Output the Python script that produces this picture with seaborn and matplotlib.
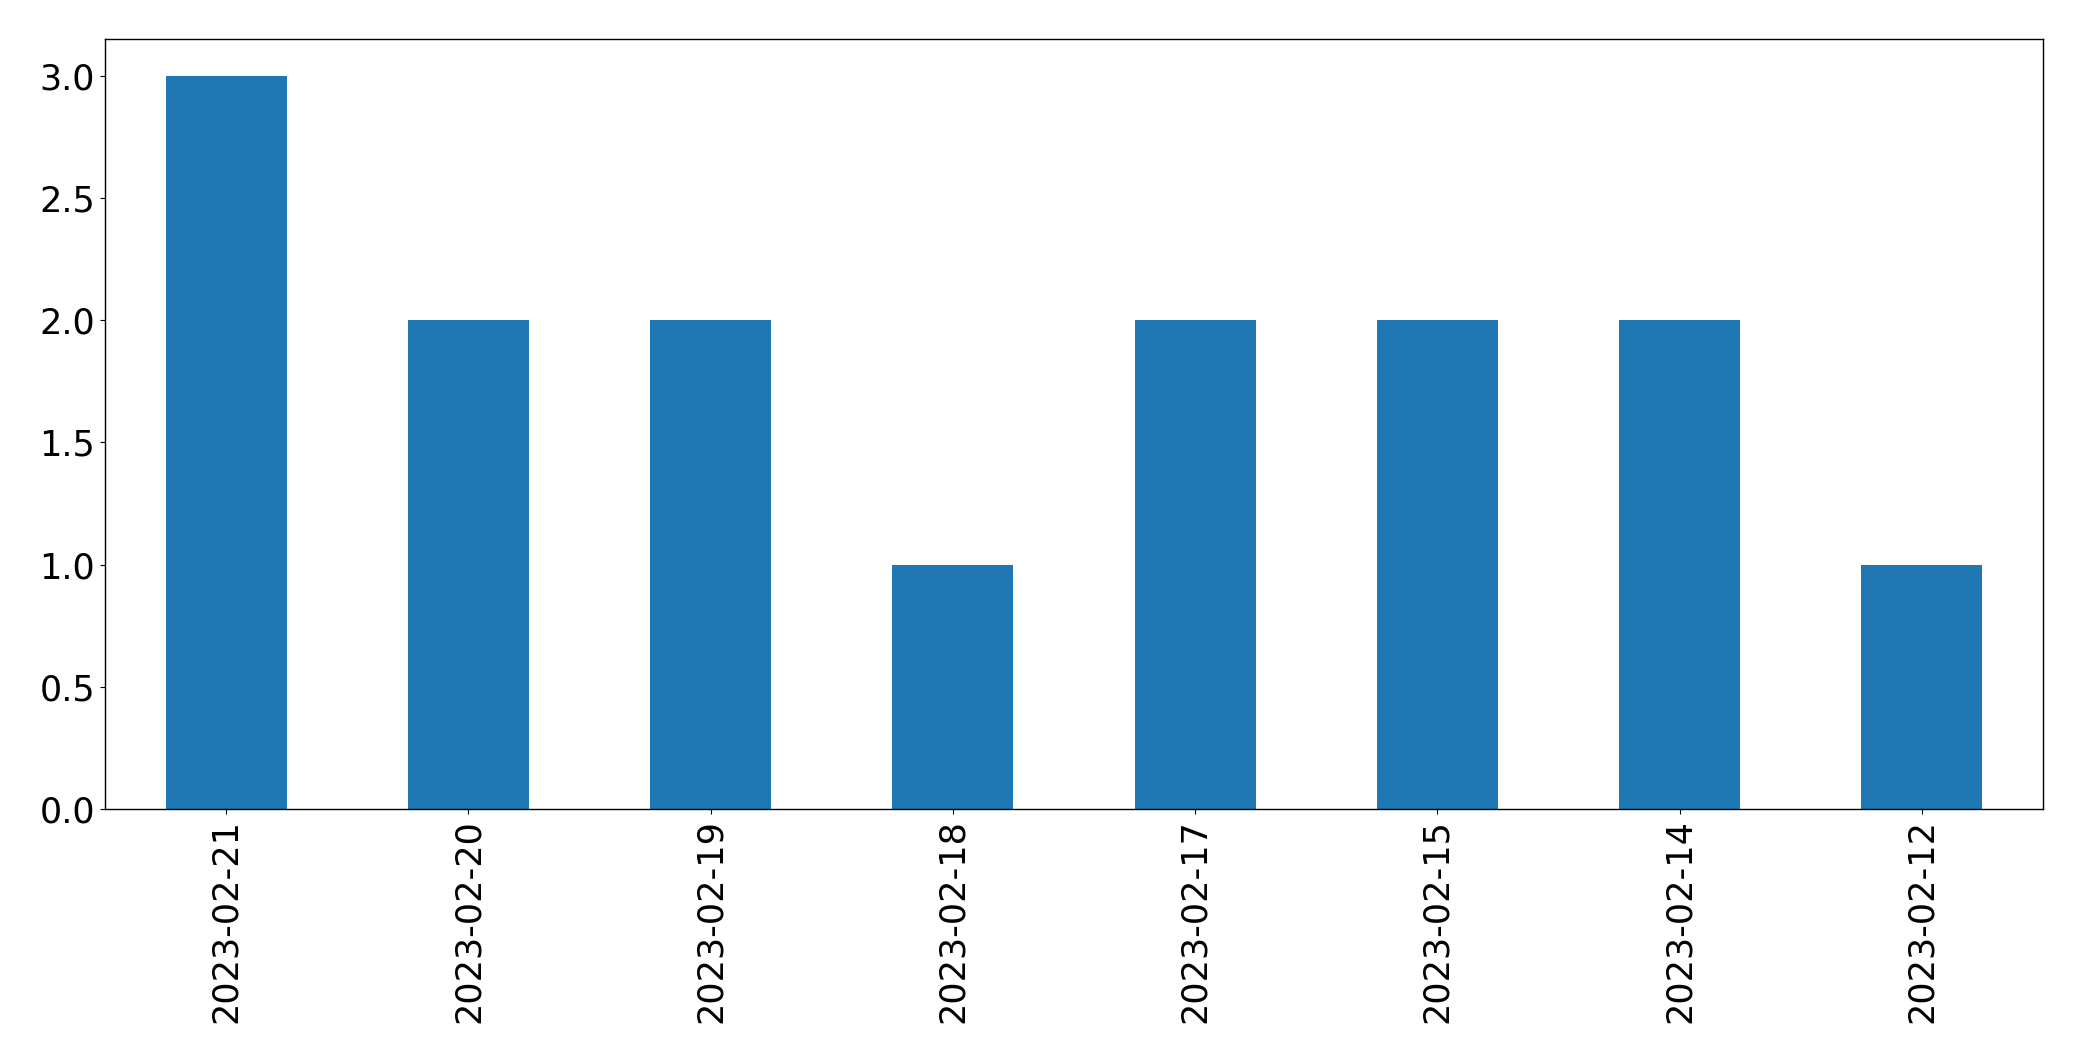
import matplotlib
matplotlib.use("Agg")
import matplotlib.pyplot as plt
import seaborn as sns
import pandas as pd

dates = ["2023-02-21", "2023-02-20", "2023-02-19", "2023-02-18",
         "2023-02-17", "2023-02-15", "2023-02-14", "2023-02-12"]
counts = [3, 2, 2, 1, 2, 2, 2, 1]

df = pd.DataFrame({"date": dates, "count": counts})

fig = plt.figure(figsize=(20.82, 10.61), dpi=100)
ax = fig.add_axes([105 / 2082, 1 - 809 / 1061, (2043 - 105) / 2082, (809 - 39) / 1061])

sns.barplot(data=df, x="date", y="count", order=dates, color="#1f77b4",
            saturation=1, width=0.5, ax=ax)

ax.set_xlim(-0.5, len(dates) - 0.5)
ax.set_ylim(0, 3.15)
ax.set_xlabel("")
ax.set_ylabel("")
ax.tick_params(axis="both", labelsize=25.2)
ax.tick_params(axis="x", labelrotation=90)
for s in ax.spines.values():
    s.set_visible(True)
    s.set_linewidth(1.0)

fig.savefig("out.png", dpi=100)
